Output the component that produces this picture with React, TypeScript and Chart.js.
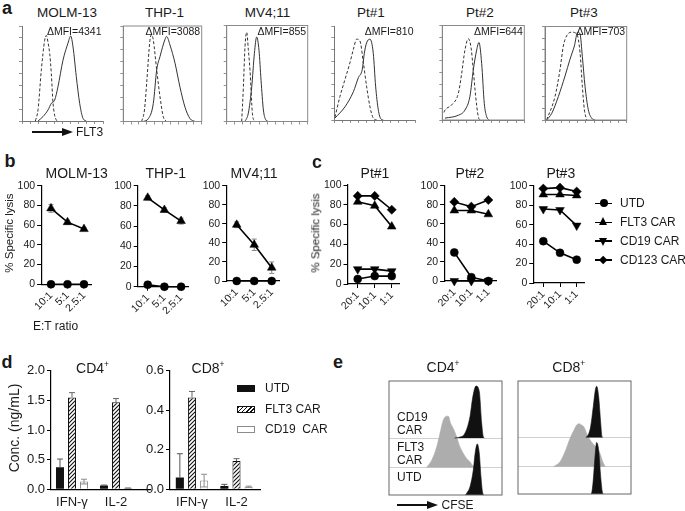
import React, { useEffect, useRef } from "react";
import { Chart, registerables } from "chart.js";

Chart.register(...registerables);

const FONT = "'Liberation Sans', Arial, Helvetica, sans-serif";
Chart.defaults.font.family = FONT;
Chart.defaults.color = "#1a1a1a";

type Pt = [number, number];

// ---------------- DATA ----------------
// panel a : FLT3 flow histograms (channel 0-100, % of max)
const A_TITLES = ["MOLM-13", "THP-1", "MV4;11", "Pt#1", "Pt#2", "Pt#3"];
const A_MFI = [4341, 3088, 855, 810, 644, 703];
const MOLM13_ISO: Pt[] = [[16.5,0],[19.8,12],[23.9,54],[28,85],[30,90],[32.1,83],[34.2,71],[36.2,50],[38.3,19],[42.4,1],[44.4,0]];
const MOLM13_FLT3: Pt[] = [[19.8,0],[25.9,4.6],[32.1,11.6],[36.2,18.6],[40.3,22],[44.4,36],[50.6,64],[56.8,82],[60.1,89.5],[63,78],[67,47],[71.2,18.6],[75.3,2.8],[79.4,0]];
const THP1_ISO: Pt[] = [[23.4,0],[27,12],[29.8,40],[34,85],[36.2,91],[38.3,85],[42.6,54],[46.8,26],[51,5],[55.3,0]];
const THP1_FLT3: Pt[] = [[25.5,0],[32,3],[38.3,19],[42.6,54],[46.8,68],[53.2,86],[55.3,89],[59.6,80],[66,61],[72.3,36],[78.7,15],[85.1,3],[91.5,0]];
const MV411_ISO: Pt[] = [[18.5,0],[20.6,36],[22.6,78],[24.7,93],[26.7,75],[28.8,53],[31.7,8.6],[34.2,0]];
const MV411_FLT3: Pt[] = [[22.6,0],[26.7,8.6],[30.9,36],[34.2,71],[37,88],[39.9,74],[42.4,43],[45.3,12],[48.1,2],[51.4,0]];
const PT1_ISO: Pt[] = [[0.8,3],[7,25],[13.2,43],[19.4,61],[23.6,75],[27.7,86],[31.8,84],[36,61],[40,36],[44.2,14],[48.3,2],[52.5,0]];
const PT1_FLT3: Pt[] = [[0.8,2],[13.2,14],[23.6,30],[29.8,45],[34.7,54],[37.2,71],[40,82],[44.2,86],[48.3,71],[51.2,36],[54.5,11],[57.9,1],[60.7,0]];
const PT2_ISO: Pt[] = [[2,8],[3.3,10.5],[11.4,16],[19.5,28],[23.6,49],[27.6,74],[31.7,86],[35,77],[37.8,53],[40.7,25],[43.9,3.5],[45.9,0]];
const PT2_FLT3: Pt[] = [[3.3,2],[19.5,5],[27.6,10.5],[33.7,25],[37.8,53],[41.9,74],[44.7,82],[48,60],[51.2,17.5],[54.1,3.5],[56.9,0]];
const PT3_ISO: Pt[] = [[2,0],[12.2,25],[18.4,54],[22.4,79],[26.5,90],[32.7,94],[38.8,92],[42.9,72],[45.7,36],[48.2,11],[51,0]];
const PT3_FLT3: Pt[] = [[2,0],[8.2,7],[16.3,25],[24.5,47],[30.6,65],[35.9,79],[40,94],[42.9,92],[45.7,68],[49,36],[53,11],[57.1,2],[61.2,0]];
const A_ISO = [MOLM13_ISO, THP1_ISO, MV411_ISO, PT1_ISO, PT2_ISO, PT3_ISO];
const A_FLT3 = [MOLM13_FLT3, THP1_FLT3, MV411_FLT3, PT1_FLT3, PT2_FLT3, PT3_FLT3];

// panel b / c : % specific lysis
const ET_CELL = ["10:1", "5:1", "2.5:1"];
const ET_PT = ["20:1", "10:1", "1:1"];
const MOLM13_UTD = [0, 0, 0];
const MOLM13_CAR = [77, 63, 56];
const MOLM13_CAR_ERR = [4, 2, 1];
const THP1_UTD = [2, 0, 0];
const THP1_UTD_ERR = [3, 0, 0];
const THP1_CAR = [88, 76, 65];
const THP1_CAR_ERR = [2, 2, 3];
const MV411_UTD = [0, 0, 0];
const MV411_CAR = [59, 38, 14];
const MV411_CAR_ERR = [3, 6, 6];
const PT1_UTD = [5, 8, 8];
const PT1_FLT3CAR = [83, 79, 58];
const PT1_CD19CAR = [15, 15, 13];
const PT1_CD123CAR = [89, 89, 75];
const PT2_UTD = [30, 4, 0];
const PT2_FLT3CAR = [74, 74, 70];
const PT2_CD19CAR = [0, 0, 0];
const PT2_CD123CAR = [83, 78, 85];
const PT3_UTD = [43, 31, 24];
const PT3_FLT3CAR = [91, 91, 90];
const PT3_CD19CAR = [76, 75, 59];
const PT3_CD123CAR = [97, 98, 94];
const LYSIS_LEGEND = ["UTD", "FLT3 CAR", "CD19 CAR", "CD123 CAR"];

// panel d : cytokines (ng/mL)
const CYTOKINES = ["IFN-γ", "IL-2"];
const CD4_UTD = [0.37, 0.065];
const CD4_UTD_ERR = [0.14, 0.006];
const CD4_FLT3 = [1.55, 1.47];
const CD4_FLT3_ERR = [0.08, 0.06];
const CD4_CD19 = [0.13, 0.02];
const CD4_CD19_ERR = [0.04, 0.004];
const CD8_UTD = [0.06, 0.017];
const CD8_UTD_ERR = [0.12, 0.008];
const CD8_FLT3 = [0.465, 0.143];
const CD8_FLT3_ERR = [0.03, 0.012];
const CD8_CD19 = [0.044, 0.013];
const CD8_CD19_ERR = [0.032, 0.003];
const CYTO_LEGEND = ["UTD", "FLT3 CAR", "CD19  CAR"];

// panel e : CFSE dilution histograms (channel 0-100, counts)
const E_ROW_LABELS = [["CD19", "CAR"], ["FLT3", "CAR"], ["UTD"]];
const E_CD4_CD19: Pt[] = [[58,0],[61.3,0.5],[67.3,5],[71.7,21.6],[74,40],[77,52],[79.9,46.6],[82,15],[83.5,1],[84.5,0]];
const E_CD4_FLT3: Pt[] = [[33.3,0],[37.8,7.3],[42.2,20.6],[45.1,34],[48,47.3],[51,51.3],[52.5,51.3],[54.6,44],[56.9,39],[59.9,30.6],[62.2,22.3],[65.8,14],[68.7,9],[71.7,5.6],[74.6,1],[76,0]];
const E_CD4_UTD: Pt[] = [[67.5,0],[68.7,1.7],[71.7,8.3],[74.6,25],[76.4,43.3],[78.1,51],[79.9,41.7],[81.4,18.3],[82.9,2],[84,0]];
const E_CD8_CD19: Pt[] = [[60,0],[62.2,2.7],[64.3,11],[66.6,31],[68.4,47.7],[69.6,51.7],[71.4,41],[73.2,14.4],[74.3,1],[75,0]];
const E_CD8_FLT3: Pt[] = [[31.3,0],[37.2,5],[41.6,15],[46,28.4],[49.6,37],[51.9,42],[54.3,43.4],[56.3,42],[58.4,40],[60.8,33.4],[63.1,28.4],[66.1,23.4],[69,20],[72.6,13.4],[75,5],[77.3,0]];
const E_CD8_UTD: Pt[] = [[64.5,0],[65.2,1],[66.6,14],[68.1,37],[69.6,52],[71.4,44],[73.2,17],[74.6,2],[75.5,0]];

// ---------------- LAYOUT ----------------
type Area = { l: number; t: number; r: number; b: number };
type Margin = { ml: number; mt: number; mr: number; mb: number };

const A_BOXES: Area[] = [
  { l: 22, t: 26, r: 103, b: 121 },
  { l: 123.3, t: 26, r: 201.7, b: 121.5 },
  { l: 226.7, t: 25.5, r: 307.7, b: 121.5 },
  { l: 334.3, t: 26, r: 415, b: 120 },
  { l: 442.3, t: 25.5, r: 524.3, b: 120 },
  { l: 545, t: 26.5, r: 626.7, b: 120 },
];
const A_FULL_FRAME = [false, true, true, false, true, true];
const A_TITLE_X = [67, 164.5, 267.5, 371, 480, 584];
const A_MARGIN: Margin = { ml: 5, mt: 2, mr: 2, mb: 5 };

const LYS_MARGIN: Margin = { ml: 30, mt: 8, mr: 8, mb: 30 };
const LYS_XMIN = -0.6;
const LYS_XMAX = 2.45;

const E_OFFSETS = [0, 27.5, 57];
const E_YMAX = 114;
const E_MARGIN: Margin = { ml: 2, mt: 2, mr: 2, mb: 2 };

const BAR_MARGIN: Margin = { ml: 34, mt: 8, mr: 6, mb: 22 };

// ---------------- HELPERS ----------------
const fitY = (w: number) => (s: any) => {
  s.width = w; s.paddingLeft = 0; s.paddingRight = 0; s.paddingTop = 0; s.paddingBottom = 0;
};
const fitX = (h: number) => (s: any) => {
  s.height = h; s.paddingLeft = 0; s.paddingRight = 0; s.paddingTop = 0; s.paddingBottom = 0;
};

function baseOptions(m: Margin) {
  return {
    responsive: true,
    maintainAspectRatio: false,
    animation: false,
    events: [],
    layout: { padding: { left: 0, top: m.mt, right: m.mr, bottom: 0 }, autoPadding: false },
  };
}

function drawErrors(chart: any, opts: any) {
  const ctx = chart.ctx;
  const ys = chart.scales.y;
  chart.data.datasets.forEach((ds: any, i: number) => {
    if (!ds.errors) return;
    const meta = chart.getDatasetMeta(i);
    meta.data.forEach((el: any, j: number) => {
      const e = ds.errors[j];
      if (!e) return;
      const d = ds.data[j];
      const v = typeof d === "number" ? d : d.y;
      const top = ys.getPixelForValue(v + e);
      const both = ds.errorMode === "both";
      const bot = ys.getPixelForValue(both ? Math.max(0, v - e) : v);
      const cap = (opts.cap || 5) / 2;
      ctx.save();
      ctx.strokeStyle = ds.errorColor || opts.color || "#666";
      ctx.lineWidth = opts.width || 1;
      ctx.beginPath();
      ctx.moveTo(el.x, top);
      ctx.lineTo(el.x, bot);
      ctx.moveTo(el.x - cap, top);
      ctx.lineTo(el.x + cap, top);
      if (both) {
        ctx.moveTo(el.x - cap, bot);
        ctx.lineTo(el.x + cap, bot);
      }
      ctx.stroke();
      ctx.restore();
    });
  });
}

const errorBarPlugin = {
  id: "errorBars",
  beforeDatasetsDraw(chart: any, _a: any, opts: any) {
    if (opts && opts.layer === "before") drawErrors(chart, opts);
  },
  afterDatasetsDraw(chart: any, _a: any, opts: any) {
    if (opts && opts.layer === "after") drawErrors(chart, opts);
  },
};

const framePlugin = {
  id: "frame",
  afterDraw(chart: any, _a: any, opts: any) {
    if (!opts || !opts.color) return;
    const { left, top, right, bottom } = chart.chartArea;
    const ctx = chart.ctx;
    ctx.save();
    ctx.strokeStyle = opts.color;
    ctx.lineWidth = opts.width || 1;
    ctx.strokeRect(left, top, right - left, bottom - top);
    ctx.restore();
  },
};

function makeHatch(): any {
  const c = document.createElement("canvas");
  c.width = 4;
  c.height = 4;
  const g = c.getContext("2d")!;
  g.fillStyle = "#fff";
  g.fillRect(0, 0, 4, 4);
  g.strokeStyle = "#111";
  g.lineWidth = 1.1;
  g.beginPath();
  g.moveTo(0, 4); g.lineTo(4, 0);
  g.moveTo(-1, 1); g.lineTo(1, -1);
  g.moveTo(3, 5); g.lineTo(5, 3);
  g.stroke();
  return g.createPattern(c, "repeat");
}

const MARKERS: Record<string, any> = {
  circle: { pointStyle: "circle", pointRadius: 4, pointRotation: 0 },
  up: { pointStyle: "triangle", pointRadius: 5, pointRotation: 0 },
  down: { pointStyle: "triangle", pointRadius: 5, pointRotation: 180 },
  diamond: { pointStyle: "rectRot", pointRadius: 4.6, pointRotation: 0 },
};

type LSeries = { values: number[]; errors?: number[]; marker: string };

function histConfig(m: Margin, iso: Pt[], stain: Pt[], full: boolean) {
  const line = (pts: Pt[], dash: number[]) => ({
    data: pts.map(([x, y]) => ({ x, y })),
    borderColor: "#333",
    borderWidth: 1,
    borderDash: dash,
    pointRadius: 0,
    fill: false,
    cubicInterpolationMode: "monotone",
  });
  const axis = {
    type: "linear",
    min: 0,
    max: 100,
    bounds: "data",
    ticks: { display: false, stepSize: 12.5 },
    grid: { drawOnChartArea: false, drawTicks: true, tickLength: 3, color: "#777", lineWidth: 0.8 },
    border: { display: true, color: "#777", width: 1 },
  };
  return {
    type: "line",
    data: { datasets: [line(stain, []), line(iso, [3, 2])] },
    options: {
      ...baseOptions(m),
      scales: {
        x: { ...axis, ticks: { display: false, stepSize: 10 }, afterFit: fitX(m.mb) },
        y: { ...axis, afterFit: fitY(m.ml) },
      },
      plugins: {
        legend: { display: false },
        tooltip: { enabled: false },
        frame: full ? { color: "#8a8a8a", width: 1 } : false,
      },
    },
    plugins: [framePlugin],
  };
}

function lysisConfig(m: Margin, labels: string[], series: LSeries[]) {
  const axisLine = {
    grid: { drawOnChartArea: false, drawTicks: true, tickLength: 4, color: "#000", lineWidth: 1 },
    border: { display: true, color: "#000", width: 1.2 },
  };
  return {
    type: "line",
    data: {
      datasets: series.map((s) => ({
        data: s.values.map((v, i) => ({ x: i, y: v })),
        errors: s.errors,
        errorMode: "both",
        borderColor: "#000",
        backgroundColor: "#000",
        borderWidth: 1.6,
        pointBackgroundColor: "#000",
        pointBorderColor: "#000",
        pointBorderWidth: 0.5,
        ...MARKERS[s.marker],
        clip: false,
        tension: 0,
      })),
    },
    options: {
      ...baseOptions(m),
      scales: {
        x: {
          type: "linear",
          min: LYS_XMIN,
          max: LYS_XMAX,
          bounds: "data",
          afterBuildTicks: (s: any) => {
            s.ticks = labels.map((_, i) => ({ value: i }));
          },
          ticks: {
            callback: (v: any) => labels[Math.round(v)] ?? "",
            minRotation: 45,
            maxRotation: 45,
            autoSkip: false,
            padding: 1,
            font: { size: 10.5 },
            color: "#1a1a1a",
          },
          ...axisLine,
          afterFit: fitX(m.mb),
        },
        y: {
          type: "linear",
          min: 0,
          max: 100,
          bounds: "data",
          ticks: { stepSize: 20, font: { size: 10.5 }, padding: 2, color: "#1a1a1a" },
          ...axisLine,
          afterFit: fitY(m.ml),
        },
      },
      plugins: {
        legend: { display: false },
        tooltip: { enabled: false },
        errorBars: { layer: "before", color: "#8a8a8a", cap: 5, width: 1 },
      },
    },
    plugins: [errorBarPlugin],
  };
}

function cytoConfig(
  m: Margin,
  utd: number[], utdErr: number[], flt3: number[], flt3Err: number[], cd19: number[], cd19Err: number[],
  yMax: number, yStep: number, xMin: number, xMax: number
) {
  const pts = (vals: number[]) => vals.map((v, i) => ({ x: i, y: v }));
  const common = { categoryPercentage: 0.818, barPercentage: 0.667, borderSkipped: "bottom" };
  return {
    type: "bar",
    data: {
      datasets: [
        { data: pts(utd), errors: utdErr, errorMode: "up", errorColor: "#555", backgroundColor: "#111", borderWidth: 0, ...common },
        { data: pts(flt3), errors: flt3Err, errorMode: "up", errorColor: "#666", backgroundColor: makeHatch(), borderColor: "#111", borderWidth: 1, ...common },
        { data: pts(cd19), errors: cd19Err, errorMode: "both", errorColor: "#8c8c8c", backgroundColor: "#fff", borderColor: "#8c8c8c", borderWidth: 1, ...common },
      ],
    },
    options: {
      ...baseOptions(m),
      scales: {
        x: {
          type: "linear",
          min: xMin,
          max: xMax,
          bounds: "data",
          offset: false,
          afterBuildTicks: (s: any) => {
            s.ticks = CYTOKINES.map((_, i) => ({ value: i }));
          },
          ticks: { callback: (v: any) => CYTOKINES[Math.round(v)] ?? "", autoSkip: false, maxRotation: 0, minRotation: 0, padding: 5, font: { size: 13 }, color: "#1a1a1a" },
          grid: { display: false, drawTicks: false },
          border: { display: true, color: "#000", width: 1.2 },
          afterFit: fitX(m.mb),
        },
        y: {
          type: "linear",
          min: 0,
          max: yMax,
          bounds: "data",
          ticks: { stepSize: yStep, callback: (v: any) => Number(v).toFixed(1), font: { size: 13 }, padding: 2, color: "#1a1a1a" },
          grid: { drawOnChartArea: false, drawTicks: true, tickLength: 4, color: "#000", lineWidth: 1 },
          border: { display: true, color: "#000", width: 1.2 },
          afterFit: fitY(m.ml),
        },
      },
      plugins: {
        legend: { display: false },
        tooltip: { enabled: false },
        errorBars: { layer: "after", cap: 6, width: 1 },
      },
    },
    plugins: [errorBarPlugin],
  };
}

function cfseConfig(m: Margin, utd: Pt[], flt3: Pt[], cd19: Pt[]) {
  const ds = (p: Pt[], off: number, color: string) => ({
    data: p.map(([x, y]) => ({ x, y: y + off })),
    fill: { value: off },
    backgroundColor: color,
    borderColor: color,
    borderWidth: 0.6,
    pointRadius: 0,
    cubicInterpolationMode: "monotone",
  });
  return {
    type: "line",
    data: {
      datasets: [ds(utd, E_OFFSETS[0], "#111"), ds(cd19, E_OFFSETS[2], "#111"), ds(flt3, E_OFFSETS[1], "#adadad")],
    },
    options: {
      ...baseOptions(m),
      scales: {
        x: {
          type: "linear", min: 0, max: 100, bounds: "data",
          ticks: { display: false },
          grid: { display: false, drawTicks: false },
          border: { display: false },
          afterFit: fitX(m.mb),
        },
        y: {
          type: "linear", min: 0, max: E_YMAX, bounds: "data",
          afterBuildTicks: (s: any) => {
            s.ticks = [{ value: E_OFFSETS[1] }, { value: E_OFFSETS[2] }];
          },
          ticks: { display: false },
          grid: { drawTicks: false, drawOnChartArea: true, color: "#c4c4c4", lineWidth: 0.8 },
          border: { display: false },
          afterFit: fitY(m.ml),
        },
      },
      plugins: {
        legend: { display: false },
        tooltip: { enabled: false },
        frame: { color: "#666", width: 1 },
      },
    },
    plugins: [framePlugin],
  };
}

// ---------------- COMPONENTS ----------------
function ChartBox({ area, margin, build }: { area: Area; margin: Margin; build: (m: Margin) => any }) {
  const ref = useRef<HTMLCanvasElement>(null);
  // snap the canvas to whole pixels; keep the plot area where it belongs
  const left = Math.round(area.l - margin.ml);
  const top = Math.round(area.t - margin.mt);
  const w = Math.round(area.r + margin.mr) - left;
  const h = Math.round(area.b + margin.mb) - top;
  const m: Margin = { ml: area.l - left, mt: area.t - top, mr: left + w - area.r, mb: top + h - area.b };
  useEffect(() => {
    const chart = new Chart(ref.current as HTMLCanvasElement, build(m));
    return () => chart.destroy();
  }, []);
  return (
    <div style={{ position: "absolute", left, top, width: w, height: h }}>
      <canvas ref={ref} />
    </div>
  );
}

function T({ x, y, s = 12, b = false, a = "c", r = false, children }: any) {
  const tx = a === "c" ? "-50%" : a === "r" ? "-100%" : "0";
  return (
    <div
      style={{
        position: "absolute",
        left: x,
        top: y,
        fontSize: s,
        fontWeight: b ? "bold" : "normal",
        whiteSpace: "pre",
        lineHeight: 1,
        transform: `translate(${tx}, -50%)${r ? " rotate(-90deg)" : ""}`,
      }}
    >
      {children}
    </div>
  );
}

const Sup = ({ children }: any) => (
  <sup style={{ fontSize: "0.6em", verticalAlign: "super", lineHeight: 0 }}>{children}</sup>
);

function Arrow({ x1, x2, y }: { x1: number; x2: number; y: number }) {
  return (
    <>
      <div style={{ position: "absolute", left: x1, top: y - 0.75, width: x2 - x1 - 10, height: 1.5, background: "#111" }} />
      <div
        style={{
          position: "absolute", left: x2 - 11, top: y - 4.5, width: 0, height: 0,
          borderTop: "4.5px solid transparent", borderBottom: "4.5px solid transparent", borderLeft: "11px solid #111",
        }}
      />
    </>
  );
}

function Marker({ kind, x, y }: { kind: string; x: number; y: number }) {
  const base: any = { position: "absolute" };
  if (kind === "circle")
    return <div style={{ ...base, left: x - 4, top: y - 4, width: 8, height: 8, borderRadius: "50%", background: "#000" }} />;
  if (kind === "up")
    return <div style={{ ...base, left: x - 4.5, top: y - 5, width: 0, height: 0, borderLeft: "4.5px solid transparent", borderRight: "4.5px solid transparent", borderBottom: "8px solid #000" }} />;
  if (kind === "down")
    return <div style={{ ...base, left: x - 4.5, top: y - 3, width: 0, height: 0, borderLeft: "4.5px solid transparent", borderRight: "4.5px solid transparent", borderTop: "8px solid #000" }} />;
  return <div style={{ ...base, left: x - 3.2, top: y - 3.2, width: 6.4, height: 6.4, background: "#000", transform: "rotate(45deg)" }} />;
}

const B_CHARTS = [
  { title: "MOLM-13", tx: 76.7, area: { l: 41.1, t: 185.7, r: 91.4, b: 284.3 },
    series: [{ values: MOLM13_UTD, marker: "circle" }, { values: MOLM13_CAR, errors: MOLM13_CAR_ERR, marker: "up" }] },
  { title: "THP-1", tx: 165.8, area: { l: 137.7, t: 185.7, r: 188.6, b: 286.7 },
    series: [{ values: THP1_UTD, errors: THP1_UTD_ERR, marker: "circle" }, { values: THP1_CAR, errors: THP1_CAR_ERR, marker: "up" }] },
  { title: "MV4;11", tx: 254, area: { l: 226.2, t: 185.7, r: 279.6, b: 281 },
    series: [{ values: MV411_UTD, marker: "circle" }, { values: MV411_CAR, errors: MV411_CAR_ERR, marker: "up" }] },
];

const C_CHARTS = [
  { title: "Pt#1", tx: 375, area: { l: 347.5, t: 185, r: 399.4, b: 284 },
    series: [PT1_UTD, PT1_FLT3CAR, PT1_CD19CAR, PT1_CD123CAR] },
  { title: "Pt#2", tx: 470, area: { l: 444.1, t: 185.7, r: 496, b: 281 },
    series: [PT2_UTD, PT2_FLT3CAR, PT2_CD19CAR, PT2_CD123CAR] },
  { title: "Pt#3", tx: 560.8, area: { l: 533.3, t: 185.7, r: 584.2, b: 283 },
    series: [PT3_UTD, PT3_FLT3CAR, PT3_CD19CAR, PT3_CD123CAR] },
];
const C_MARKERS = ["circle", "up", "down", "diamond"];
const C_LEGEND_Y = [203.3, 222.3, 241, 260];
const D_LEGEND_Y = [388.3, 409, 429];
const E_LABEL_Y = [[417, 430], [447, 459.5], [476.5]];

export default function App() {
  return (
    <div
      style={{
        position: "fixed", left: 0, top: 0, width: 685, height: 511, background: "#fff",
        overflow: "hidden", fontFamily: FONT, color: "#1a1a1a",
      }}
    >
      {/* panel a */}
      {A_BOXES.map((box, i) => (
        <ChartBox key={"a" + i} area={box} margin={A_MARGIN} build={(m) => histConfig(m, A_ISO[i], A_FLT3[i], A_FULL_FRAME[i])} />
      ))}
      {/* panel b */}
      {B_CHARTS.map((c, i) => (
        <ChartBox key={"b" + i} area={c.area} margin={LYS_MARGIN} build={(m) => lysisConfig(m, ET_CELL, c.series)} />
      ))}
      {/* panel c */}
      {C_CHARTS.map((c, i) => (
        <ChartBox
          key={"c" + i}
          area={c.area}
          margin={LYS_MARGIN}
          build={(m) => lysisConfig(m, ET_PT, c.series.map((v, k) => ({ values: v, marker: C_MARKERS[k] })))}
        />
      ))}
      {/* panel d */}
      <ChartBox
        area={{ l: 51, t: 370.7, r: 150, b: 489.3 }}
        margin={BAR_MARGIN}
        build={(m) => cytoConfig(m, CD4_UTD, CD4_UTD_ERR, CD4_FLT3, CD4_FLT3_ERR, CD4_CD19, CD4_CD19_ERR, 2, 0.5, -0.477, 1.773)}
      />
      <ChartBox
        area={{ l: 170, t: 370.7, r: 260, b: 489.3 }}
        margin={BAR_MARGIN}
        build={(m) => cytoConfig(m, CD8_UTD, CD8_UTD_ERR, CD8_FLT3, CD8_FLT3_ERR, CD8_CD19, CD8_CD19_ERR, 0.6, 0.2, -0.494, 1.528)}
      />
      {/* panel e */}
      <ChartBox area={{ l: 389, t: 381, r: 502, b: 495 }} margin={E_MARGIN} build={(m) => cfseConfig(m, E_CD4_UTD, E_CD4_FLT3, E_CD4_CD19)} />
      <ChartBox area={{ l: 518, t: 381, r: 631, b: 494 }} margin={E_MARGIN} build={(m) => cfseConfig(m, E_CD8_UTD, E_CD8_FLT3, E_CD8_CD19)} />

      {/* ---- text ---- */}
      <T x={7} y={7.5} s={18} b>a</T>
      <T x={10} y={161} s={18} b>b</T>
      <T x={317} y={162} s={18} b>c</T>
      <T x={7} y={361.5} s={18} b>d</T>
      <T x={338} y={362} s={18} b>e</T>

      {A_TITLES.map((t, i) => (
        <T key={"at" + i} x={A_TITLE_X[i]} y={12.5} s={13.5}>{t}</T>
      ))}
      {A_BOXES.map((box, i) => (
        <T key={"am" + i} x={box.r - 1.5} y={31} s={10.5} a="r">{"ΔMFI=" + A_MFI[i]}</T>
      ))}
      <Arrow x1={32} x2={73} y={132} />
      <T x={76} y={132} s={12} a="l">FLT3</T>

      {B_CHARTS.map((c, i) => (
        <T key={"bt" + i} x={c.tx} y={173} s={14}>{c.title}</T>
      ))}
      {C_CHARTS.map((c, i) => (
        <T key={"ct" + i} x={c.tx} y={173} s={14}>{c.title}</T>
      ))}
      <T x={10} y={232.5} s={11.5} r>% Specific lysis</T>
      <T x={316} y={232.5} s={11.5} r>% Specific lysis</T>
      <T x={33} y={326} s={12} a="l">E:T ratio</T>

      {LYSIS_LEGEND.map((t, i) => (
        <React.Fragment key={"cl" + i}>
          <div style={{ position: "absolute", left: 595, top: C_LEGEND_Y[i] - 0.8, width: 17, height: 1.6, background: "#000" }} />
          <Marker kind={C_MARKERS[i]} x={603.5} y={C_LEGEND_Y[i]} />
          <T x={620} y={C_LEGEND_Y[i]} s={12} a="l">{t}</T>
        </React.Fragment>
      ))}

      <T x={92.5} y={368} s={14}>CD4<Sup>+</Sup></T>
      <T x={208} y={368} s={14}>CD8<Sup>+</Sup></T>
      <T x={14} y={427.5} s={14} r>Conc. (ng/mL)</T>
      {CYTO_LEGEND.map((t, i) => {
        const sw: any = { position: "absolute", left: 237, top: D_LEGEND_Y[i] - 3.5, width: 18, height: 7, boxSizing: "border-box" };
        if (i === 0) sw.background = "#111";
        if (i === 1) {
          sw.background = "repeating-linear-gradient(135deg, #111 0 1px, #fff 1px 3px)";
          sw.border = "1px solid #111";
        }
        if (i === 2) {
          sw.background = "#fff";
          sw.border = "1px solid #8c8c8c";
        }
        return (
          <React.Fragment key={"dl" + i}>
            <div style={sw} />
            <T x={265} y={D_LEGEND_Y[i]} s={12} a="l">{t}</T>
          </React.Fragment>
        );
      })}

      <T x={443} y={367} s={14}>CD4<Sup>+</Sup></T>
      <T x={568.8} y={367} s={14}>CD8<Sup>+</Sup></T>
      {E_ROW_LABELS.map((lines, i) =>
        lines.map((t, k) => (
          <T key={"el" + i + k} x={397} y={E_LABEL_Y[i][k]} s={12} a="l">{t}</T>
        ))
      )}
      <Arrow x1={397} x2={438} y={505} />
      <T x={441.5} y={505} s={12} a="l">CFSE</T>
    </div>
  );
}
